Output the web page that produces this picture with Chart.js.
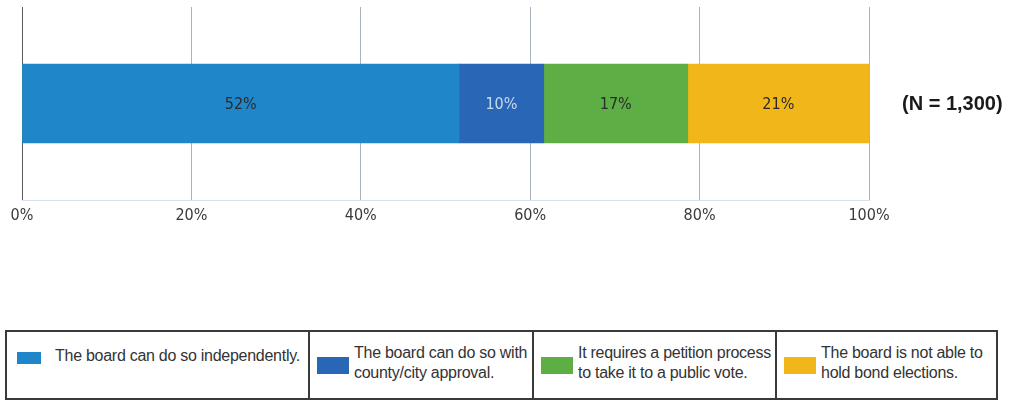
<!DOCTYPE html>
<html>
<head>
<meta charset="utf-8">
<script src="https://cdn.jsdelivr.net/npm/chart.js@4.4.0/dist/chart.umd.min.js"></script>
<style>
  html, body { margin: 0; padding: 0; background: #fff; }
  #wrap { position: relative; width: 1009px; height: 402px; overflow: hidden; }
  #chart { position: absolute; left: 0; top: 0; }
  #legend {
    position: absolute; left: 5px; top: 330px; width: 993px; height: 70px;
    box-sizing: border-box; border: 2px solid #3a3a3a;
    font-family: "Liberation Sans", Arial, sans-serif; font-size: 16px; color: #333;
  }
  .cell { position: absolute; top: 0; bottom: 0; box-sizing: border-box; }
  .cell + .cell { border-left: 2px solid #3a3a3a; }
  .sw { position: absolute; }
  .txt { position: absolute; line-height: 20px; white-space: nowrap; letter-spacing: -0.27px; }
</style>
</head>
<body>
<div id="wrap">
  <canvas id="chart" width="1009" height="240"></canvas>
  <div id="legend"></div>
</div>
<script>
// data
const categories = [''];
const seriesNames = [
  'The board can do so independently.',
  'The board can do so with\ncounty/city approval.',
  'It requires a petition process\nto take it to a public vote.',
  'The board is not able to\nhold bond elections.'
];
const seriesValues = [51.6, 10.0, 17.0, 21.4];
const seriesLabels = ['52%', '10%', '17%', '21%'];
const tickValues = [0, 20, 40, 60, 80, 100];
const sampleNote = '(N = 1,300)';

const colors = ['#1f87c9', '#2a66b6', '#5eae46', '#f1b619'];
const labelColors = ['#2b2b2b', '#c9d9ef', '#2b2b2b', '#2b2b2b'];
const narrow = '"Liberation Sans Narrow", "DejaVu Sans Condensed", "Arial Narrow", sans-serif';

const segmentLabels = {
  id: 'segmentLabels',
  afterDatasetsDraw(chart) {
    const ctx = chart.ctx;
    ctx.save();
    ctx.font = '16px ' + narrow;
    ctx.textAlign = 'center';
    ctx.textBaseline = 'middle';
    chart.data.datasets.forEach((ds, i) => {
      const el = chart.getDatasetMeta(i).data[0];
      ctx.fillStyle = labelColors[i];
      ctx.fillText(seriesLabels[i], (el.x + el.base) / 2, el.y + 1);
    });
    // sample size note on the right
    const el0 = chart.getDatasetMeta(0).data[0];
    ctx.font = 'bold 20px "Liberation Sans", Arial, sans-serif';
    ctx.fillStyle = '#1a1a1a';
    ctx.textAlign = 'left';
    ctx.fillText(sampleNote, chart.chartArea.right + 33, el0.y + 1);
    ctx.restore();
  }
};

new Chart(document.getElementById('chart'), {
  type: 'bar',
  data: {
    labels: categories,
    datasets: seriesNames.map((name, i) => ({
      label: name,
      data: [seriesValues[i]],
      backgroundColor: colors[i],
      borderWidth: 0,
      barThickness: 79
    }))
  },
  options: {
    indexAxis: 'y',
    responsive: false,
    animation: false,
    layout: { padding: { left: 22, right: 140, top: 7, bottom: 0 } },
    plugins: { legend: { display: false }, tooltip: { enabled: false } },
    scales: {
      x: {
        type: 'linear', stacked: true, min: 0, max: 100,
        afterBuildTicks: (scale) => { scale.ticks = tickValues.map(v => ({ value: v })); },
        afterFit: (scale) => { scale.height = 40; },
        grid: {
          drawTicks: false,
          color: (c) => c.index === 0 ? '#5a5a5a' : '#a8b3c0',
          lineWidth: 1
        },
        border: { display: true, color: '#d5e1ef', width: 1 },
        ticks: {
          padding: 6,
          color: '#3a3a3a',
          font: { family: narrow, size: 16 },
          callback: (v) => v + '%'
        }
      },
      y: { stacked: true, display: false }
    }
  },
  plugins: [segmentLabels]
});

// legend table built from the series names
const cellLefts = [0, 303, 527, 770, 993];
const legend = document.getElementById('legend');
seriesNames.forEach((name, i) => {
  const cell = document.createElement('div');
  cell.className = 'cell';
  cell.style.left = (cellLefts[i] - 2) + 'px';
  cell.style.width = (cellLefts[i + 1] - cellLefts[i]) + 'px';
  const twoLines = name.includes('\n');
  const sw = document.createElement('div');
  sw.className = 'sw';
  sw.style.background = colors[i];
  if (twoLines) {
    sw.style.left = '7px'; sw.style.top = '25px'; sw.style.width = '32px'; sw.style.height = '17px';
  } else {
    sw.style.left = '12px'; sw.style.top = '20px'; sw.style.width = '24px'; sw.style.height = '12px';
  }
  const txt = document.createElement('div');
  txt.className = 'txt';
  txt.style.left = (twoLines ? 44 : 50) + 'px';
  txt.style.top = twoLines ? '11px' : '14px';
  txt.innerHTML = name.replace('\n', '<br>');
  cell.appendChild(sw);
  cell.appendChild(txt);
  legend.appendChild(cell);
});
</script>
</body>
</html>
